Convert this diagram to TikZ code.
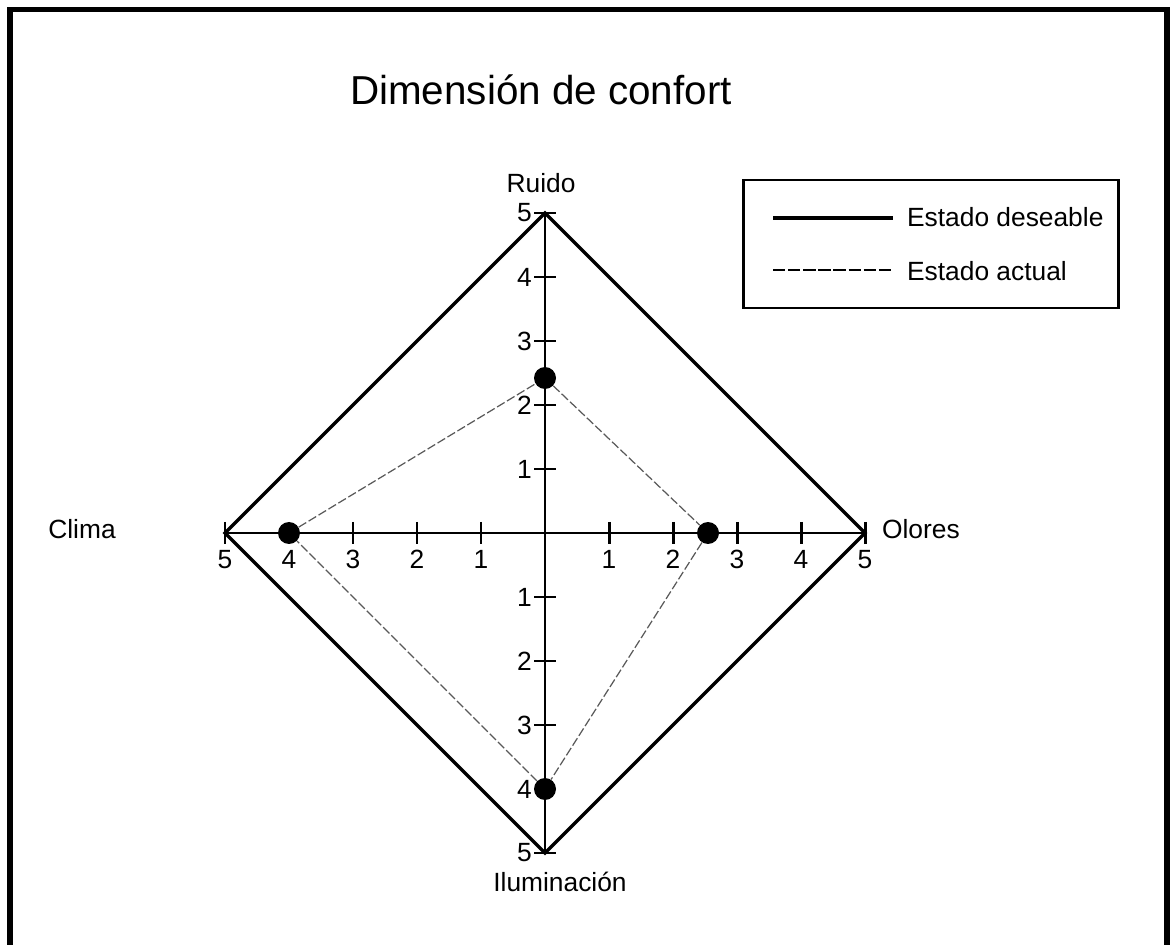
\documentclass[tikz,border=0pt]{standalone}
\usepackage{fontspec}
\setmainfont{Liberation Sans}
\usetikzlibrary{positioning,calc}

\begin{document}
\begin{tikzpicture}[x=0.02cm, y=-0.02cm,
  axisline/.style={line width=1.7pt, black},
  goalline/.style={line width=2pt, black, line join=miter},
  nowline/.style={line width=0.7pt, black!65, dash pattern=on 5pt off 1.6pt},
  dot/.style={circle, fill=black, minimum size=0.44cm, inner sep=0pt},
  lbl/.style={font=\fontsize{15}{18}\selectfont, inner sep=1pt}]
  \def\cx{545}
  \def\cy{533}
  \def\un{64}
  \def\tk{11}

  % Fixed bounding box
  \path[use as bounding box] (0,0) rectangle (1170,945);

  % Frame
  \draw[line width=3.4pt] (10,945) -- (10,9.5) -- (1167,9.5) -- (1167,945);

  % Title
  \node[font=\fontsize{23}{28}\selectfont] (title) at (541,90) {Dimensión de confort};

  % Axis ends
  \coordinate (ruido) at (\cx,{\cy-5*\un});
  \coordinate (olores) at ({\cx+5*\un},\cy);
  \coordinate (ilum) at (\cx,{\cy+5*\un});
  \coordinate (clima) at ({\cx-5*\un},\cy);

  % Desired state
  \draw[goalline] (ruido) -- (olores) -- (ilum) -- (clima) -- cycle;

  % Axes
  \draw[axisline] (clima) -- (olores);
  \draw[axisline] (ruido) -- (ilum);

  % Ticks and numbers
  \foreach \i in {1,...,5} {
    \pgfmathsetmacro{\d}{\i*\un}
    \draw[axisline] ({\cx-\tk},{\cy-\d}) -- ({\cx+\tk},{\cy-\d});
    \draw[axisline] ({\cx-\tk},{\cy+\d}) -- ({\cx+\tk},{\cy+\d});
    \draw[axisline] ({\cx-\d},{\cy-\tk}) -- ({\cx-\d},{\cy+\tk});
    \draw[axisline] ({\cx+\d},{\cy-\tk}) -- ({\cx+\d},{\cy+\tk});
    \node[lbl, anchor=east] at ({\cx-\tk},{\cy-\d}) {\i};
    \node[lbl, anchor=east] at ({\cx-\tk},{\cy+\d}) {\i};
    \node[lbl, anchor=north] at ({\cx-\d},{\cy+15}) {\i};
    \node[lbl, anchor=north] at ({\cx+\d},{\cy+15}) {\i};
  }

  % Axis names
  \node[lbl] (nruido) at (541,183) {Ruido};
  \node[lbl, anchor=west] (nolores) at (880,529) {Olores};
  \node[lbl] (nclima) at (82,529) {Clima};
  \node[lbl] (nilum) at (560,882) {Iluminación};

  % Current state
  \node[dot] (druido) at (\cx,378) {};
  \node[dot] (dolores) at (708,\cy) {};
  \node[dot] (dilum) at (\cx,{\cy+4*\un}) {};
  \node[dot] (dclima) at ({\cx-4*\un},\cy) {};
  \draw[nowline] (druido) -- (dolores) -- (dilum) -- (dclima) -- (druido);

  % Legend
  \draw[line width=1.7pt] (743,180) rectangle (1118,308);
  \coordinate (goala) at (773,218);
  \coordinate (goalb) at (893,218);
  \coordinate (nowa) at (773,270);
  \coordinate (nowb) at (893,270);
  \draw[line width=2.4pt] (goala) -- (goalb);
  \draw[line width=0.8pt, dash pattern=on 7pt off 1.6pt] (nowa) -- (nowb);
  \node[lbl, anchor=west] (tgoal) at (905,217) {Estado deseable};
  \node[lbl, anchor=west] (tnow) at (905,271) {Estado actual};

\end{tikzpicture}
\end{document}
